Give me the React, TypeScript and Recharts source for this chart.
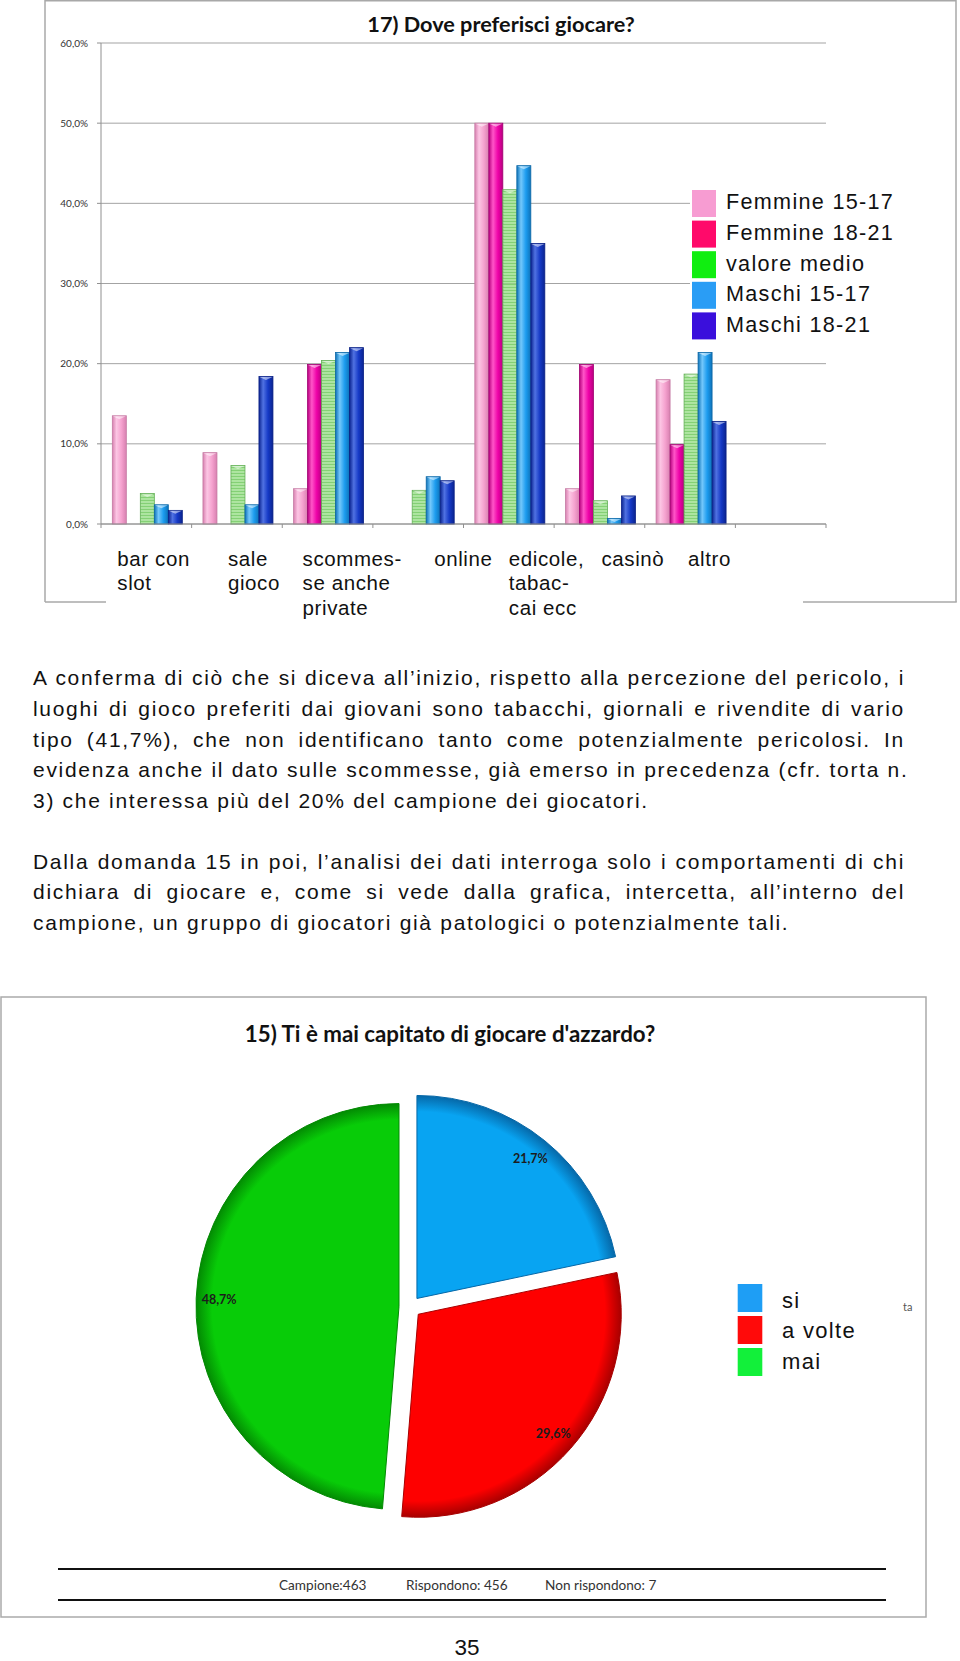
import React from 'react';
import { BarChart, Bar, XAxis, YAxis, CartesianGrid, Legend, PieChart, Pie, Cell } from 'recharts';

// ---------------- data ----------------
const categories = ['bar con\nslot', 'sale\ngioco', 'scommes-\nse anche\nprivate', 'online', 'edicole,\ntabac-\ncai ecc', 'casinò', 'altro', ''];
const femmine1517 = [13.5, 8.9, 4.4, 0, 50.0, 4.4, 18.0, null];
const femmine1821 = [0, 0, 19.9, 0, 50.0, 19.9, 9.9, null];
const valoreMedio = [3.8, 7.3, 20.4, 4.2, 41.7, 2.9, 18.7, null];
const maschi1517 = [2.4, 2.4, 21.4, 5.9, 44.7, 0.7, 21.4, null];
const maschi1821 = [1.7, 18.4, 22.0, 5.4, 35.0, 3.5, 12.8, null];
const seriesNames = ['Femmine 15-17', 'Femmine 18-21', 'valore medio', 'Maschi 15-17', 'Maschi 18-21'];
const yTicks = [0, 10, 20, 30, 40, 50, 60];

const pieNames = ['si', 'a volte', 'mai'];
const pieValues = [21.7, 29.6, 48.7];
const footerTexts = ['Campione:463', 'Rispondono: 456', 'Non rispondono: 7'];

const paragraph1 = [
  'A conferma di ciò che si diceva all’inizio, rispetto alla percezione del pericolo, i',
  'luoghi di gioco preferiti dai giovani sono tabacchi, giornali e rivendite di vario',
  'tipo (41,7%), che non identificano tanto come potenzialmente pericolosi. In',
  'evidenza anche il dato sulle scommesse, già emerso in precedenza (cfr. torta n.',
  '3) che interessa più del 20% del campione dei giocatori.',
];
const paragraph2 = [
  'Dalla domanda 15 in poi, l’analisi dei dati interroga solo i comportamenti di chi',
  'dichiara di giocare e, come si vede dalla grafica, intercetta, all’interno del',
  'campione, un gruppo di giocatori già patologici o potenzialmente tali.',
];

// ---------------- derived tables ----------------
const seriesKeys = ['f1517', 'f1821', 'vm', 'm1517', 'm1821'];
const seriesValues = [femmine1517, femmine1821, valoreMedio, maschi1517, maschi1821];
const barData = categories.map((name, i) => {
  const row: any = { name };
  seriesKeys.forEach((k, s) => { row[k] = seriesValues[s][i]; });
  return row;
});
const pieData = pieNames.map((name, i) => ({ name, value: pieValues[i] }));

// ---------------- styles / layout ----------------
const HELV = '"Liberation Sans", Arial, Helvetica, sans-serif';
const CAL = 'Lato, "Open Sans", sans-serif';
const M_LEFT = 41, Y_W = 60, M_RIGHT = 134;
const PLOT_W = 960 - M_LEFT - Y_W - M_RIGHT;
const BAND = PLOT_W / categories.length;
const LABEL_DX = [-29, -9, -25, 16, 0, 2, -2, 0];

const BAR_COLORS = [
  { light: '#FCC6E4', base: '#F5A2CF', dark: '#D880B0', stroke: '#C47AA3' },
  { light: '#FF55C8', base: '#EE02A8', dark: '#B8007F', stroke: '#A00070' },
  { light: '#B5EAA8', base: '#95DC86', dark: '#6FC060', stroke: '#62AE55' },
  { light: '#74C8FB', base: '#1C9CEF', dark: '#0E72B8', stroke: '#0C67A6' },
  { light: '#5072E2', base: '#1539C6', dark: '#0B2490', stroke: '#0A2185' },
];
const LEGEND_COLORS = ['#F79CD2', '#FF0A6A', '#10EE10', '#2A9DF5', '#3A0FDC'];

const PIE_BASE = ['#08A4F2', '#FE0000', '#08CC08'];
const PIE_DARK = ['#0668A8', '#A80000', '#038A03'];
const PIE_LEGEND = ['#1E9EF5', '#FF0A0A', '#12F03A'];
const PIE_TOP = 990;
const PIE_CX = 410, PIE_CY = 1307 - PIE_TOP, PIE_R = 203, EXPLODE = 11;
const RAD = Math.PI / 180;
const pieTotal = pieValues.reduce((a, b) => a + b, 0);
const pieMid = pieValues.map((v, i) => (pieValues.slice(0, i).reduce((a, b) => a + b, 0) + v / 2) / pieTotal * 360);
const pieOff = pieMid.map((m) => ({ dx: EXPLODE * Math.sin(m * RAD), dy: -EXPLODE * Math.cos(m * RAD) }));

const fmtPct = (v: number) => `${v.toFixed(1).replace('.', ',')}%`;

function CategoryTick(props: any) {
  const { x, y, payload } = props;
  const idx = typeof props.index === 'number' ? props.index : categories.indexOf(payload?.value);
  const lines = String(payload?.value ?? '').split('\n');
  const tx = x + (LABEL_DX[idx] ?? 0);
  const left = x - BAND / 2;
  return (
    <g>
      <line x1={left} x2={left} y1={y} y2={y + 4} stroke="#909090" />
      {idx === categories.length - 1 && (
        <line x1={x + BAND / 2} x2={x + BAND / 2} y1={y} y2={y + 4} stroke="#909090" />
      )}
      <text x={tx} y={y} fontFamily={HELV} fontSize={20.5} letterSpacing={0.6} fill="#111">
        {lines.map((l, k) => (
          <tspan key={k} x={tx} dy={k === 0 ? 41.7 : 24.5}>{l}</tspan>
        ))}
      </text>
    </g>
  );
}

function BarShape(props: any) {
  const { x, y, width, height, s } = props;
  if (!height || height <= 0 || !width) return <g />;
  const c = BAR_COLORS[s];
  const fill = s === 2 ? 'url(#stripeGreen)' : `url(#barGrad${s})`;
  return (
    <g>
      <rect x={x} y={y} width={width} height={height} fill={fill} stroke={c.stroke} strokeWidth={0.8} />
      <path d={`M${x + 0.5},${y + 0.5} L${x + width - 0.5},${y + 0.5} L${x + width / 2},${y + 3.5} Z`} fill="#fff" fillOpacity={0.5} />
    </g>
  );
}

function BarLegend() {
  return (
    <svg width={230} height={166} style={{ display: 'block', background: '#fff' }}>
      {seriesNames.map((n, i) => (
        <g key={n}>
          <rect x={2} y={10 + i * 30.6} width={24} height={27} fill={LEGEND_COLORS[i]} />
          <text x={36} y={29.3 + i * 30.7} fontFamily={HELV} fontSize={21.6} letterSpacing={1.3} fill="#111">{n}</text>
        </g>
      ))}
    </svg>
  );
}

function PieLegend() {
  return (
    <svg width={150} height={110} style={{ display: 'block' }}>
      {pieNames.map((n, i) => (
        <g key={n}>
          <rect x={7.7} y={14 + i * 32} width={24.6} height={28} fill={PIE_LEGEND[i]} />
          <text x={52} y={37.5 + i * 30.5} fontFamily={HELV} fontSize={22} letterSpacing={1.3} fill="#111">{n}</text>
        </g>
      ))}
    </svg>
  );
}

const makePieLabel = (j: number) => (props: any) => {
  const { cx, cy, midAngle, index } = props;
  if (index !== j) return <g />;
  const r = 180;
  const lx = cx + r * Math.cos(-midAngle * RAD);
  const ly = cy + r * Math.sin(-midAngle * RAD);
  return (
    <text x={lx} y={ly} textAnchor="middle" dominantBaseline="central" fontFamily={CAL} fontWeight={700} fontSize={12.5} fill="#1c1c1c">
      {fmtPct(pieValues[j])}
    </text>
  );
};

const paraStyle = (last: boolean): React.CSSProperties => ({
  position: 'absolute', left: 33, width: 872, fontFamily: HELV, fontSize: 21, lineHeight: '30.7px',
  letterSpacing: '1.7px', color: '#111', textAlign: last ? 'left' : 'justify',
  textAlignLast: last ? 'left' : 'justify', whiteSpace: 'nowrap',
});
// baseline offset inside a 30.7px line box for a 21px Liberation Sans
const P_BASE = (30.7 - 21 * 1.117) / 2 + 21 * 0.905;

export default function App() {
  return (
    <div style={{ position: 'absolute', left: 0, top: 0, width: 960, height: 1661, background: '#fff', overflow: 'hidden' }}>
      {/* Bar chart */}
      <div style={{ position: 'absolute', left: 0, top: 0 }}>
        <BarChart width={960} height={620} data={barData} margin={{ top: 43, right: M_RIGHT, bottom: 0, left: M_LEFT }} barCategoryGap="12.5%" barGap={0}>
          <defs>
            {BAR_COLORS.map((c, s) => (
              <linearGradient key={s} id={`barGrad${s}`} x1="0" y1="0" x2="1" y2="0">
                <stop offset="0%" stopColor={c.dark} />
                <stop offset="30%" stopColor={c.light} />
                <stop offset="65%" stopColor={c.base} />
                <stop offset="100%" stopColor={c.dark} />
              </linearGradient>
            ))}
            <pattern id="stripeGreen" width="6" height="3" patternUnits="userSpaceOnUse">
              <rect width="6" height="1.5" fill="#ACE79E" />
              <rect y="1.5" width="6" height="1.5" fill="#84D075" />
            </pattern>
          </defs>
          <CartesianGrid vertical={false} stroke="#a3a3a3" />
          <XAxis dataKey="name" interval={0} height={96} tickLine={false} tickSize={0} tickMargin={0}
            axisLine={{ stroke: '#909090' }} tick={(p: any) => <CategoryTick {...p} />} />
          <YAxis width={Y_W} domain={[0, 60]} ticks={yTicks} tickFormatter={fmtPct} tickSize={4} tickMargin={9}
            axisLine={{ stroke: '#909090' }} tickLine={{ stroke: '#909090' }}
            tick={{ fontFamily: CAL, fontSize: 10, fill: '#333' }} />
          {seriesKeys.map((k, s) => (
            <Bar key={k} dataKey={k} name={seriesNames[s]} fill={BAR_COLORS[s].base} isAnimationActive={false}
              shape={(p: any) => <BarShape {...p} s={s} />} />
          ))}
          <Legend layout="vertical" align="center" verticalAlign="middle" content={() => <BarLegend />}
            wrapperStyle={{ position: 'absolute', left: 690, top: 180, width: 230, height: 166, background: '#fff' }} />
        </BarChart>
      </div>

      {/* Paragraphs */}
      {paragraph1.map((l, k) => (
        <div key={`p1${k}`} style={{ ...paraStyle(k === paragraph1.length - 1), top: 686 - P_BASE + k * 30.7 }}>{l}</div>
      ))}
      {paragraph2.map((l, k) => (
        <div key={`p2${k}`} style={{ ...paraStyle(k === paragraph2.length - 1), top: 869.3 - P_BASE + k * 30.7 }}>{l}</div>
      ))}

      {/* Pie chart */}
      <div style={{ position: 'absolute', left: 0, top: PIE_TOP }}>
        <PieChart width={960} height={640} margin={{ top: 0, right: 0, bottom: 0, left: 0 }}>
          <defs>
            {PIE_BASE.map((c, i) => (
              <radialGradient key={i} id={`pg${i}`} gradientUnits="userSpaceOnUse"
                cx={PIE_CX + pieOff[i].dx} cy={PIE_CY + pieOff[i].dy} r={PIE_R}>
                <stop offset="0%" stopColor={c} />
                <stop offset="92%" stopColor={c} />
                <stop offset="100%" stopColor={PIE_DARK[i]} />
              </radialGradient>
            ))}
          </defs>
          {pieValues.map((_, j) => (
            <Pie key={j} data={pieData} dataKey="value" nameKey="name"
              cx={PIE_CX + pieOff[j].dx} cy={PIE_CY + pieOff[j].dy} outerRadius={PIE_R}
              startAngle={90} endAngle={-270} isAnimationActive={false} labelLine={false}
              label={makePieLabel(j)} stroke="none">
              {pieData.map((d, i) => (
                <Cell key={d.name} fill={i === j ? `url(#pg${i})` : 'none'} stroke={i === j ? PIE_DARK[i] : 'none'} strokeWidth={1} />
              ))}
            </Pie>
          ))}
          <Legend layout="vertical" align="center" verticalAlign="middle" content={() => <PieLegend />}
            wrapperStyle={{ position: 'absolute', left: 730, top: 280, width: 150, height: 110 }} />
        </PieChart>
      </div>

      {/* Frames, titles, footer */}
      <svg width={960} height={1661} style={{ position: 'absolute', left: 0, top: 0, pointerEvents: 'none' }}>
        <g stroke="#a8a8a8" strokeWidth={1.5} fill="none">
          <line x1={45} y1={0.75} x2={956} y2={0.75} />
          <line x1={45} y1={0} x2={45} y2={602} />
          <line x1={956} y1={0} x2={956} y2={602} />
          <line x1={45} y1={602} x2={106} y2={602} />
          <line x1={803} y1={602} x2={956.75} y2={602} />
        </g>
        <text x={501} y={32.3} textAnchor="middle" fontFamily={CAL} fontWeight={700} fontSize={21.7} fill="#111">17) Dove preferisci giocare?</text>

        <rect x={1} y={997} width={925} height={620} stroke="#aaaaaa" strokeWidth={1.5} fill="none" />
        <text x={450} y={1041.7} textAnchor="middle" fontFamily={CAL} fontWeight={700} fontSize={22.3} fill="#111">15) Ti è mai capitato di giocare d'azzardo?</text>
        <line x1={58} x2={886} y1={1569} y2={1569} stroke="#111" strokeWidth={2} />
        <line x1={58} x2={886} y1={1600} y2={1600} stroke="#111" strokeWidth={2} />
        {footerTexts.map((t, i) => (
          <text key={t} x={[279, 406, 545][i]} y={1589.5} fontFamily={CAL} fontSize={13.6} fill="#333">{t}</text>
        ))}
        <text x={903} y={1310.5} fontFamily={CAL} fontSize={11} fill="#555">ta</text>
        <text x={467} y={1655} textAnchor="middle" fontFamily={HELV} fontSize={22.5} fill="#111">35</text>
      </svg>
    </div>
  );
}
